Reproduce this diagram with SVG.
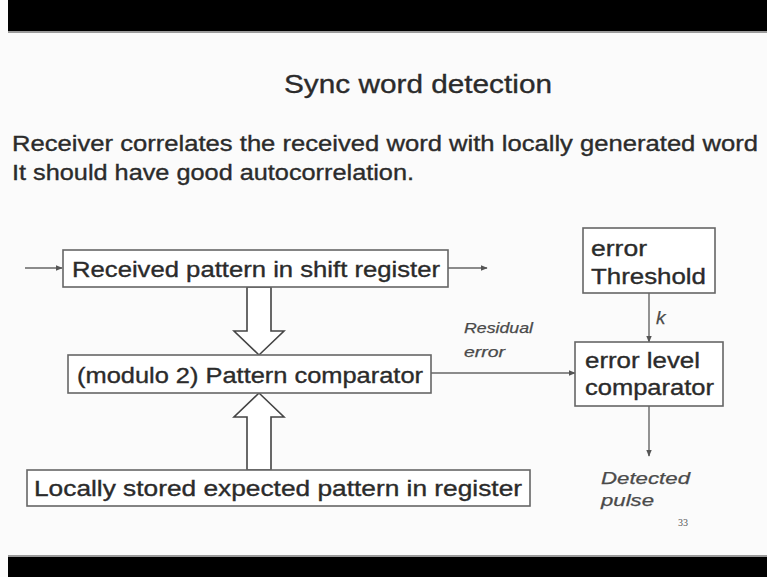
<svg xmlns="http://www.w3.org/2000/svg" width="767" height="577" viewBox="0 0 767 577">
  <defs>
    <marker id="ah" viewBox="0 0 10 10" refX="9" refY="5" markerWidth="7" markerHeight="7" markerUnits="userSpaceOnUse" orient="auto">
      <path d="M0,1 L10,5 L0,9 Z" fill="#555"/>
    </marker>
    <style>
      .t { font-family: "Liberation Sans", Arial, sans-serif; fill: #2b2b2b; stroke: #2b2b2b; stroke-width: 0.35; }
      .box { fill: #ffffff; stroke: #666666; stroke-width: 1.6; }
      .bt { font-family: "Liberation Sans", Arial, sans-serif; font-size: 22px; fill: #2b2b2b; stroke: #2b2b2b; stroke-width: 0.35; }
      .it { font-family: "Liberation Sans", Arial, sans-serif; font-style: italic; fill: #4a4a4a; stroke: #4a4a4a; stroke-width: 0.25; }
      .ln { stroke: #666666; stroke-width: 1.4; fill: none; }
      .blk { fill: #ffffff; stroke: #444444; stroke-width: 1.6; }
    </style>
  </defs>

  <rect x="0" y="0" width="767" height="577" fill="#fbfbfb"/>
  <rect x="8" y="0" width="759" height="31" fill="#000000"/>
  <rect x="8" y="31" width="759" height="2" fill="#9a9a9a"/>
  <rect x="8" y="557" width="759" height="20" fill="#000000"/>
  <rect x="8" y="555" width="759" height="2" fill="#9a9a9a"/>

  <text class="t" x="284" y="93" font-size="26" textLength="268" lengthAdjust="spacingAndGlyphs">Sync word detection</text>
  <text class="t" x="12" y="151" font-size="22" textLength="746" lengthAdjust="spacingAndGlyphs">Receiver correlates the received word with locally generated word</text>
  <text class="t" x="12" y="180" font-size="22" textLength="402" lengthAdjust="spacingAndGlyphs">It should have good autocorrelation.</text>

  <g id="connectors">
    <line class="ln" x1="25" y1="268" x2="62" y2="268" marker-end="url(#ah)"/>
    <line class="ln" x1="448" y1="268" x2="487" y2="268" marker-end="url(#ah)"/>
    <line class="ln" x1="431" y1="373" x2="575" y2="373" marker-end="url(#ah)"/>
    <line class="ln" x1="649" y1="293" x2="649" y2="342" marker-end="url(#ah)"/>
    <line class="ln" x1="649" y1="406" x2="649" y2="456" marker-end="url(#ah)"/>
    <path class="blk" d="M247,287 L271,287 L271,331 L284,331 L259,355 L234,331 L247,331 Z"/>
    <path class="blk" d="M247,470 L271,470 L271,417 L284,417 L259,393 L234,417 L247,417 Z"/>
    <text class="it" x="464" y="333" font-size="15" textLength="69" lengthAdjust="spacingAndGlyphs">Residual</text>
    <text class="it" x="464" y="357" font-size="15" textLength="41" lengthAdjust="spacingAndGlyphs">error</text>
    <text class="it" x="656" y="324" font-size="19">k</text>
    <text class="it" x="601" y="484" font-size="17" textLength="89" lengthAdjust="spacingAndGlyphs">Detected</text>
    <text class="it" x="601" y="506" font-size="17" textLength="53" lengthAdjust="spacingAndGlyphs">pulse</text>
  </g>

  <g id="received">
    <rect class="box" x="63" y="250" width="385" height="37"/>
    <text class="bt" x="72" y="277" textLength="368" lengthAdjust="spacingAndGlyphs">Received pattern in shift register</text>
  </g>

  <g id="comparator">
    <rect class="box" x="68" y="355" width="363" height="38"/>
    <text class="bt" x="77" y="383" textLength="346" lengthAdjust="spacingAndGlyphs">(modulo 2) Pattern comparator</text>
  </g>

  <g id="local">
    <rect class="box" x="27" y="470" width="503" height="36"/>
    <text class="bt" x="34" y="496" textLength="488" lengthAdjust="spacingAndGlyphs">Locally stored expected pattern in register</text>
  </g>

  <g id="threshold">
    <rect class="box" x="583" y="228" width="132" height="65"/>
    <text class="bt" x="591" y="256" textLength="56" lengthAdjust="spacingAndGlyphs">error</text>
    <text class="bt" x="591" y="284" textLength="115" lengthAdjust="spacingAndGlyphs">Threshold</text>
  </g>

  <g id="levelcomp">
    <rect class="box" x="575" y="342" width="148" height="64"/>
    <text class="bt" x="585" y="368" textLength="115" lengthAdjust="spacingAndGlyphs">error level</text>
    <text class="bt" x="585" y="395" textLength="129" lengthAdjust="spacingAndGlyphs">comparator</text>
  </g>

  <text x="678" y="526" font-family="Liberation Serif, serif" font-size="10" fill="#555">33</text>
</svg>
